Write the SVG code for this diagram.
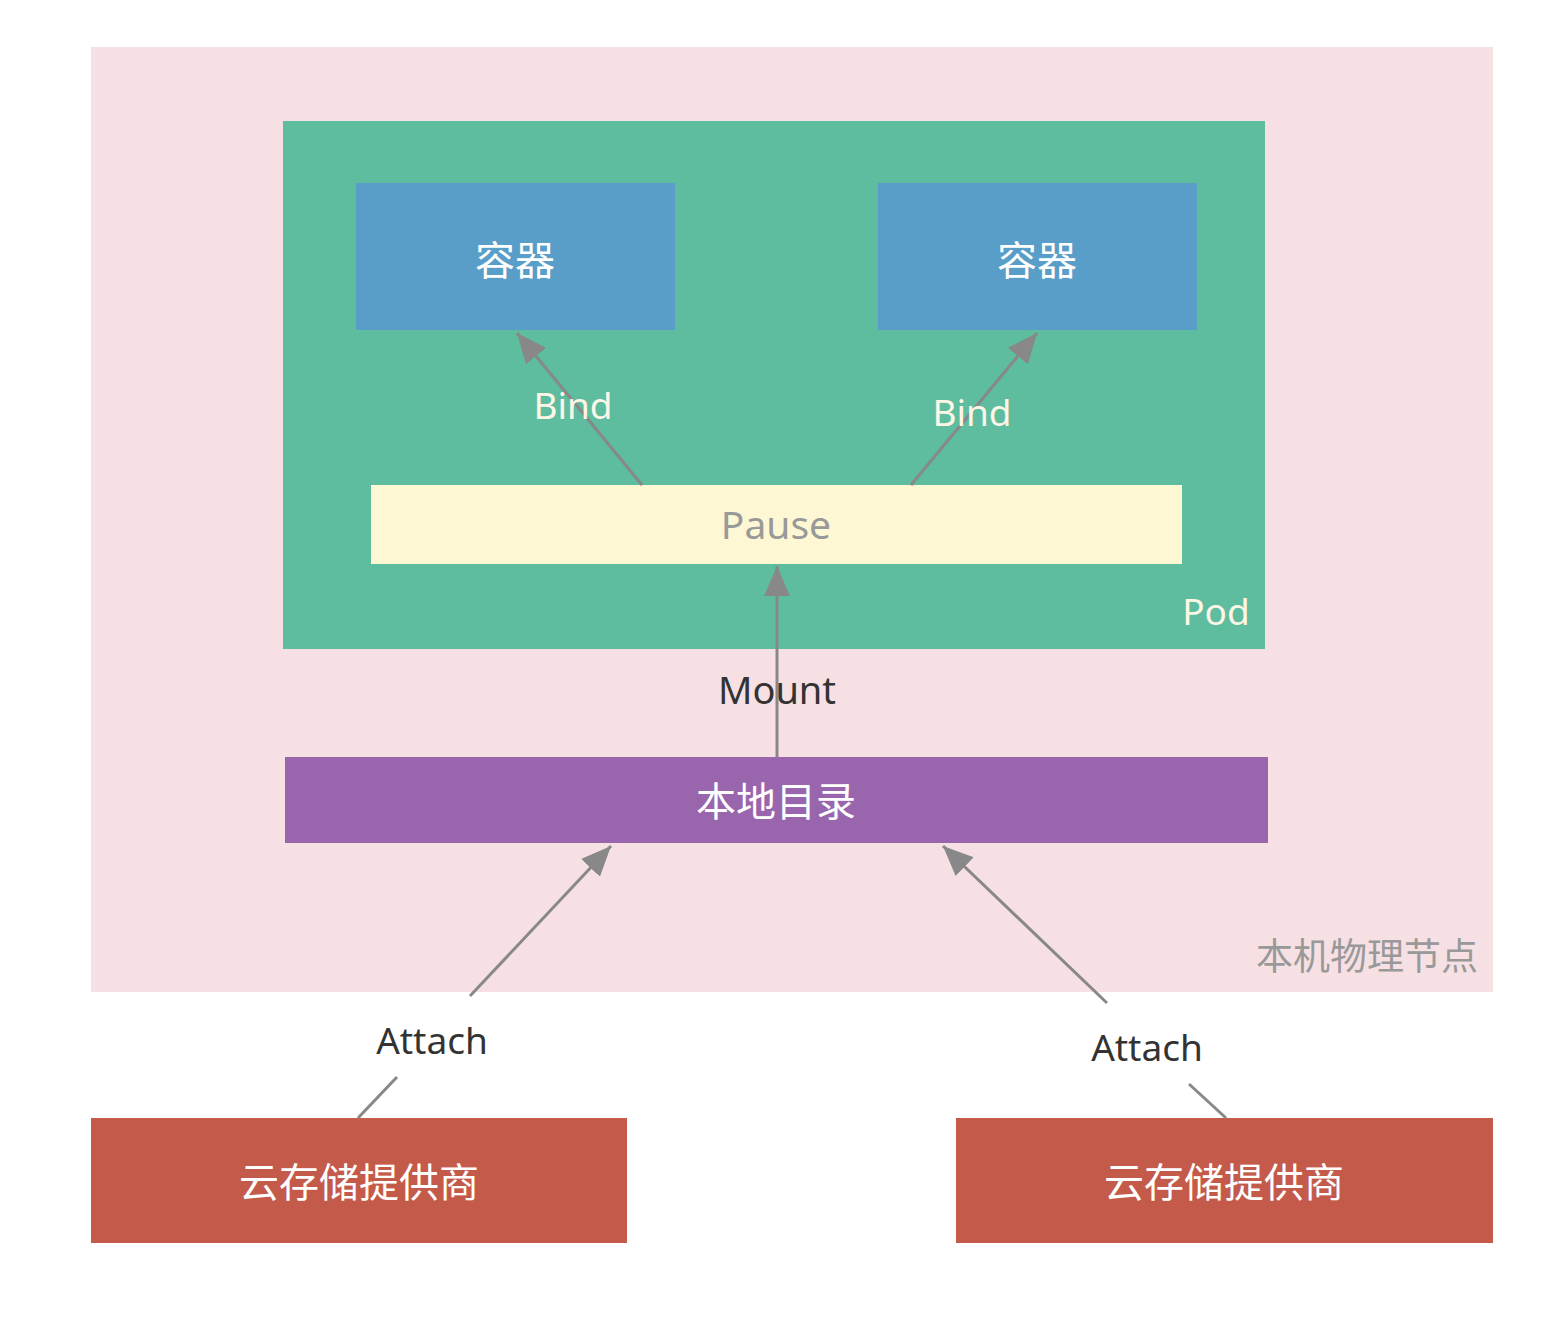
<svg xmlns="http://www.w3.org/2000/svg" width="1564" height="1332" viewBox="0 0 1564 1332">
<style>
text{font-family:"Noto Sans","Noto Sans CJK SC",sans-serif;text-anchor:middle;dominant-baseline:central;font-size:37px}
.cjk{font-size:40px}
.cream{fill:#FDF5E6}
.white{fill:#FFFFFF}
.dark{fill:#333333}
.gray{fill:#999999}
.conn{stroke:#888888;stroke-width:3;fill:none}
</style>
<defs>
<marker id="ah" markerUnits="userSpaceOnUse" markerWidth="32" markerHeight="26" refX="30" refY="13" orient="auto">
<path d="M0,0 L30,13 L0,26 Z" fill="#888888"/>
</marker>
</defs>
<rect width="1564" height="1332" fill="#FFFFFF"/>
<g id="host">
<rect x="91" y="47" width="1402" height="945" fill="#F7E0E4"/>
<text class="gray" x="1367" y="955" style="font-size:37px">本机物理节点</text>
</g>
<g id="pod">
<rect x="283" y="121" width="982" height="528" fill="#5DBD9E"/>
<text class="cream" x="1216" y="610">Pod</text>
</g>
<g id="container1">
<rect x="356" y="183" width="319" height="147" fill="#589EC8"/>
<text class="white cjk" x="515" y="259">容器</text>
</g>
<g id="container2">
<rect x="878" y="183" width="319" height="147" fill="#589EC8"/>
<text class="white cjk" x="1037" y="259">容器</text>
</g>
<g id="pause">
<rect x="371" y="485" width="811" height="79" fill="#FDF8D3"/>
<text class="gray" x="776" y="523" style="font-size:39px">Pause</text>
</g>
<g id="localdir">
<rect x="285" y="757" width="983" height="86" fill="#9966AD"/>
<text class="white cjk" x="776" y="800">本地目录</text>
</g>
<g id="cloud1">
<rect x="91" y="1118" width="536" height="125" fill="#C45A4A"/>
<text class="white cjk" x="359" y="1181">云存储提供商</text>
</g>
<g id="cloud2">
<rect x="956" y="1118" width="537" height="125" fill="#C45A4A"/>
<text class="white cjk" x="1224" y="1181">云存储提供商</text>
</g>
<g id="connectors">
<line class="conn" x1="642" y1="485" x2="517" y2="333" marker-end="url(#ah)"/>
<text class="cream" x="573" y="404">Bind</text>
<line class="conn" x1="911" y1="485" x2="1037" y2="333" marker-end="url(#ah)"/>
<text class="cream" x="972" y="411">Bind</text>
<line class="conn" x1="777" y1="757" x2="777" y2="566" marker-end="url(#ah)"/>
<text class="dark" x="777" y="689" style="font-size:38px">Mount</text>
<line class="conn" x1="358" y1="1118" x2="397" y2="1077"/>
<line class="conn" x1="470" y1="996" x2="611" y2="846" marker-end="url(#ah)"/>
<text class="dark" x="432" y="1039">Attach</text>
<line class="conn" x1="1226" y1="1118" x2="1189" y2="1084"/>
<line class="conn" x1="1107" y1="1003" x2="943" y2="846" marker-end="url(#ah)"/>
<text class="dark" x="1147" y="1046">Attach</text>
</g>
</svg>
